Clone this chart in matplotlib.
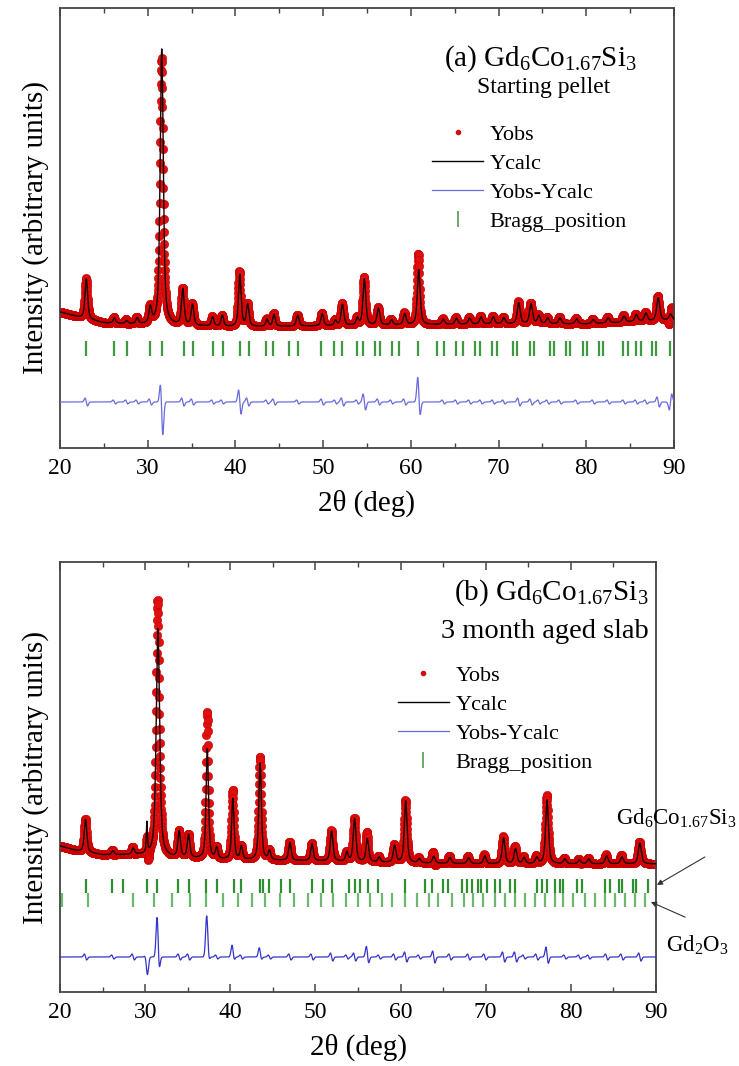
import numpy as np
import matplotlib
matplotlib.use("Agg")
import matplotlib.pyplot as plt
from matplotlib.lines import Line2D
from matplotlib.ticker import MultipleLocator

plt.rcParams["font.family"] = ["Liberation Serif", "DejaVu Serif"]
plt.rcParams["mathtext.default"] = "regular"

# ---------------- panel (a): starting pellet ----------------
BG_A_TTH = [20, 22, 25, 30, 40, 50, 60, 70, 80, 85, 88, 90]
BG_A_I = [136, 131, 125, 123, 121, 122, 123, 124, 124, 126, 127, 128]

PEAK_A_TTH = [23.0, 26.2, 27.6, 28.8, 30.3, 31.6, 34.0, 35.1, 37.4, 38.5,
              40.5, 41.4, 43.6, 44.4, 47.1, 49.9, 51.4, 52.2, 53.9, 54.7,
              56.3, 57.8, 59.3, 60.9, 63.7, 65.2, 66.7, 68.0, 69.4, 70.6,
              72.3, 73.7, 74.6, 75.6, 77.0, 78.9, 80.8, 82.5, 84.3, 85.7,
              86.8, 88.2, 89.6]
PEAK_A_I = [40, 5, 3, 6, 16, 276, 36, 21, 9, 11,
            52, 22, 7, 12, 11, 12, 5, 21, 7, 46,
            17, 5, 11, 55, 5, 6, 6, 7, 7, 6,
            21, 20, 8, 6, 6, 5, 4, 5, 6, 7,
            8, 23, 6]
PEAK_A_FWHM = [0.36, 0.34, 0.34, 0.34, 0.36, 0.42, 0.36, 0.36, 0.34, 0.34,
               0.36, 0.36, 0.34, 0.34, 0.36, 0.36, 0.34, 0.38, 0.34, 0.38,
               0.38, 0.34, 0.38, 0.38, 0.38, 0.38, 0.38, 0.38, 0.38, 0.38,
               0.4, 0.4, 0.38, 0.38, 0.38, 0.38, 0.38, 0.38, 0.4, 0.4,
               0.4, 0.42, 0.4]
# misfit (Yobs - Ycalc) at each peak: antisymmetric / symmetric part
RES_A_ASYM = [4, 2, 2, 2, 3, 24, 4, 3, 2, 2,
              12, 4, 2, 3, 2, 3, 2, 4, 2, 8,
              3, 2, 3, 18, 2, 2, 2, 2, 2, 2,
              4, 3, 2, 2, 2, 2, 2, 2, 2, 2,
              2, 5, -8]
RES_A_SYM = [0, 0, 0, 0, 0, -13, 0, 0, 0, 0,
             0, 0, 0, 0, 0, 0, 0, 0, 0, 0,
             0, 0, 0, 10, 0, 0, 0, 0, 0, 0,
             0, 0, 0, 0, 0, 0, 0, 0, 0, 0,
             0, 0, 0]

BRAGG_A = [23.0, 26.2, 27.6, 30.3, 31.6, 34.1, 35.2, 37.5, 38.6, 40.5,
           41.5, 43.5, 44.3, 46.1, 47.1, 49.8, 51.2, 52.1, 53.9, 54.6,
           55.9, 56.5, 57.8, 58.7, 60.85, 63.0, 63.8, 65.2, 65.9, 67.3,
           67.9, 69.3, 69.8, 71.7, 72.1, 73.6, 74.0, 75.9, 76.3, 77.7,
           78.1, 79.6, 80.1, 81.5, 81.9, 84.2, 84.8, 85.7, 86.2, 87.5,
           87.95, 89.5]

# ---------------- panel (b): 3 month aged slab ----------------
BG_B_TTH = [20, 22, 25, 29, 33, 40, 50, 60, 70, 80, 90]
BG_B_I = [146, 141, 137, 137, 134, 132, 131, 129, 128, 128, 128]

PEAK_B_TTH = [23.0, 26.2, 28.6, 30.2, 31.5, 34.0, 35.1, 37.3, 38.4, 40.3,
              41.3, 43.5, 44.6, 47.0, 49.6, 51.9, 53.7, 54.6, 56.1, 57.5,
              59.3, 60.6, 62.2, 63.9, 65.8, 68.0, 69.9, 72.1, 73.5, 74.5,
              76.0, 77.2, 79.3, 81.0, 82.1, 84.2, 86.0, 88.1]
PEAK_B_I = [33, 4, 6, 30, 228, 26, 23, 110, 11, 61,
            13, 97, 9, 18, 17, 30, 9, 43, 23, 5,
            17, 62, 4, 7, 6, 6, 8, 26, 15, 6,
            6, 64, 5, 4, 5, 8, 7, 21]
PEAK_B_FWHM = [0.36, 0.34, 0.34, 0.16, 0.48, 0.36, 0.36, 0.34, 0.34, 0.34,
               0.34, 0.36, 0.34, 0.36, 0.36, 0.38, 0.34, 0.38, 0.38, 0.34,
               0.38, 0.38, 0.38, 0.38, 0.38, 0.38, 0.38, 0.4, 0.4, 0.38,
               0.38, 0.4, 0.38, 0.38, 0.38, 0.4, 0.4, 0.42]
RES_B_ASYM = [3, 2, 3, 6, 22, 3, 3, 14, 2, 6,
              2, 5, 2, 3, 3, 4, 2, 4, 8, 2,
              3, 5, 2, 6, 3, 3, 3, 5, 5, 2,
              3, 8, 2, 2, 2, 3, 3, 4]
RES_B_SYM = [0, 0, 0, -15, 25, 0, 0, 35, 0, 8,
             0, 6, 0, 0, 0, 0, 0, 0, 4, 0,
             0, 0, 0, 0, 0, 0, 0, 0, 0, 0,
             0, 3, 0, 0, 0, 0, 0, 0]

BRAGG_B1 = [23.0, 26.1, 27.4, 30.2, 31.4, 33.9, 35.1, 37.2, 38.4, 40.4,
            41.3, 43.5, 43.9, 44.5, 46.0, 47.0, 49.6, 50.9, 51.9, 53.9,
            54.7, 55.2, 56.2, 57.4, 60.5, 62.9, 63.7, 65.0, 65.6, 67.2,
            67.8, 68.4, 69.1, 69.5, 70.1, 71.1, 71.7, 72.9, 73.4, 76.0,
            76.6, 77.2, 78.1, 78.7, 79.1, 80.7, 81.3, 84.0, 84.6, 85.6,
            86.0, 87.3, 87.7, 89.1]
BRAGG_B2 = [20.2, 23.3, 28.6, 31.0, 33.2, 35.3, 37.2, 39.1, 40.9, 42.6,
            44.1, 45.8, 47.5, 49.1, 50.7, 52.1, 53.6, 55.0, 56.4, 57.8,
            58.95, 60.5, 61.9, 63.3, 64.4, 66.0, 67.4, 68.55, 69.7, 71.1,
            72.3, 73.4, 74.6, 75.8, 77.0, 78.1, 79.1, 80.3, 81.7, 82.8,
            84.0, 85.2, 86.4, 87.5, 88.7]

TTH = np.arange(20.0, 90.001, 0.025)


def pseudo_voigt(x, x0, fwhm, eta=0.6):
    u = (x - x0) / fwhm
    return eta / (1 + 4 * u ** 2) + (1 - eta) * np.exp(-4 * np.log(2) * u ** 2)


def profile(bg_t, bg_i, pos, amp, fwhm):
    y = np.interp(TTH, bg_t, bg_i)
    for p, a, w in zip(pos, amp, fwhm):
        y = y + a * pseudo_voigt(TTH, p, w)
    return y


def misfit(pos, asym, sym, width=0.14):
    d = np.zeros_like(TTH)
    for p, a, s in zip(pos, asym, sym):
        u = (TTH - p) / width
        d += a * (-u) * np.exp(0.5 - 0.5 * u ** 2) + s * np.exp(-0.5 * u ** 2)
    return d


def draw(ax, calc, diff, diff_off, bragg_rows, diff_color, ymax):
    obs = calc + diff
    ax.plot(TTH, obs, ls="none", marker="o", ms=6, mfc="#e01010",
            mec="#c80000", mew=0.4, zorder=2)
    ax.plot(TTH, calc, color="#1a0000", lw=1.0, zorder=3)
    ax.plot(TTH, diff + diff_off, color=diff_color, lw=0.9, zorder=3)
    for ticks, (y0, y1), col in bragg_rows:
        ax.vlines(ticks, y0, y1, color=col, lw=1.6, zorder=2)
    ax.set_xlim(20, 90)
    ax.set_ylim(0, ymax)
    ax.xaxis.set_major_locator(MultipleLocator(10))
    ax.xaxis.set_minor_locator(MultipleLocator(5))
    ax.tick_params(axis="x", which="both", direction="in", top=True,
                   labelsize=17, pad=7, color="#444444")
    ax.tick_params(axis="x", which="major", length=6, width=1.1)
    ax.tick_params(axis="x", which="minor", length=3.5, width=1.0)
    ax.set_yticks([])
    for s in ax.spines.values():
        s.set_linewidth(1.3)
        s.set_color("#444444")
    ax.set_xlabel("2θ (deg)", fontsize=21, labelpad=8)
    ax.set_ylabel("Intensity (arbitrary units)", fontsize=21, labelpad=8)


def legend(ax, anchor):
    handles = [
        Line2D([], [], ls="none", marker="o", ms=3, color="#d01010"),
        Line2D([], [], color="black", lw=1.0),
        Line2D([], [], color="#6a6ae0", lw=0.9),
        Line2D([], [], ls="none", marker="|", ms=11, mew=1.4, color="#6aaa6a"),
    ]
    labels = ["Yobs", "Ycalc", "Yobs-Ycalc", "Bragg_position"]
    ax.legend(handles, labels, loc="upper left", bbox_to_anchor=anchor,
              frameon=False, fontsize=16, handlelength=2.3, handletextpad=0.3,
              labelspacing=0.38, borderpad=0, borderaxespad=0)


fig = plt.figure(figsize=(7.39, 10.66), dpi=100)

# panel (a)
ax_a = fig.add_axes([60 / 739, 1 - 448 / 1066, 614 / 739, 440 / 1066])
calc_a = profile(BG_A_TTH, BG_A_I, PEAK_A_TTH, PEAK_A_I, PEAK_A_FWHM)
diff_a = misfit(PEAK_A_TTH, RES_A_ASYM, RES_A_SYM)
draw(ax_a, calc_a, diff_a, 46, [(BRAGG_A, (92, 107), "#3f9a3f")], "#6a6ae0", 440)
legend(ax_a, (0.606, 0.735))
ax_a.text(0.94, 0.870, "(a) Gd$_6$Co$_{1.67}$Si$_3$", transform=ax_a.transAxes,
          ha="right", va="baseline", fontsize=21)
ax_a.text(0.788, 0.807, "Starting pellet", transform=ax_a.transAxes,
          ha="center", va="baseline", fontsize=17)

# panel (b)
ax_b = fig.add_axes([60 / 739, 1 - 992 / 1066, 596 / 739, 430 / 1066])
calc_b = profile(BG_B_TTH, BG_B_I, PEAK_B_TTH, PEAK_B_I, PEAK_B_FWHM)
diff_b = misfit(PEAK_B_TTH, RES_B_ASYM, RES_B_SYM)
draw(ax_b, calc_b, diff_b, 35,
     [(BRAGG_B1, (99, 113), "#2f8f2f"), (BRAGG_B2, (85, 99), "#6cb86c")],
     "#3434c8", 430)
legend(ax_b, (0.567, 0.76))
ax_b.text(0.987, 0.912, "(b) Gd$_6$Co$_{1.67}$Si$_3$", transform=ax_b.transAxes,
          ha="right", va="baseline", fontsize=21)
ax_b.text(0.987, 0.823, "3 month aged slab", transform=ax_b.transAxes,
          ha="right", va="baseline", fontsize=20.5)

arrow = dict(arrowstyle="-|>", color="#333333", lw=0.8, mutation_scale=8,
             shrinkA=0, shrinkB=0)
ax_b.annotate("", xy=(90.1, 107), xytext=(1.082, 0.314), xycoords="data",
              textcoords="axes fraction", arrowprops=arrow, annotation_clip=False)
ax_b.annotate("", xy=(89.4, 90), xytext=(1.049, 0.174), xycoords="data",
              textcoords="axes fraction", arrowprops=arrow, annotation_clip=False)
ax_b.text(1.034, 0.405, "Gd$_6$Co$_{1.67}$Si$_3$", transform=ax_b.transAxes,
          ha="center", va="center", fontsize=16.5)
ax_b.text(1.069, 0.109, "Gd$_2$O$_3$", transform=ax_b.transAxes,
          ha="center", va="center", fontsize=16.5)

fig.savefig("out.png", dpi=100)
